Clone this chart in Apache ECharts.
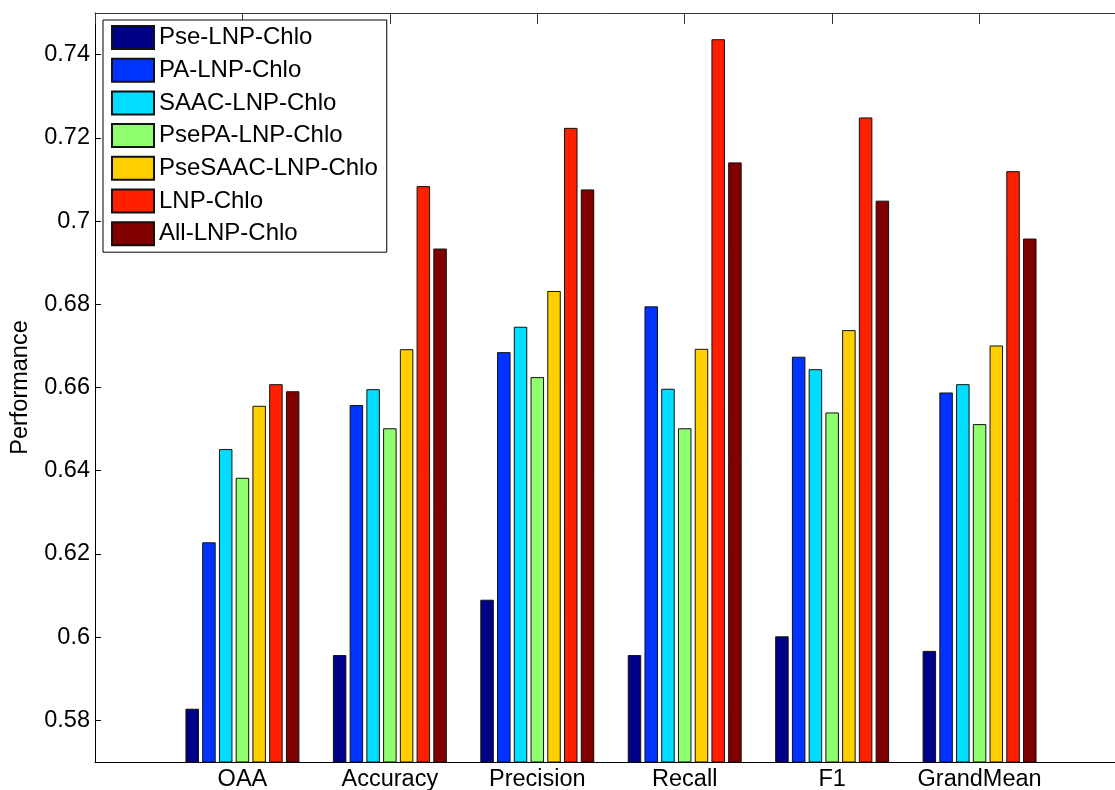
<!DOCTYPE html>
<html>
<head>
<meta charset="utf-8">
<script src="https://cdn.jsdelivr.net/npm/echarts@6/dist/echarts.min.js"></script>
<style>
    html, body { margin: 0; padding: 0; background: #fff; }
    #chart { width: 1115px; height: 790px; }
</style>
</head>
<body>
<div id="chart"></div>
<script>
// blank slots at both ends give the MATLAB-style padding around the groups
const categories = ['', 'OAA', 'Accuracy', 'Precision', 'Recall', 'F1', 'GrandMean', ''];
const seriesNames = ['Pse-LNP-Chlo', 'PA-LNP-Chlo', 'SAAC-LNP-Chlo', 'PsePA-LNP-Chlo', 'PseSAAC-LNP-Chlo', 'LNP-Chlo', 'All-LNP-Chlo'];
const colors = ['#000088', '#0033ff', '#00ddff', '#8fff6f', '#ffcf00', '#ff2000', '#800000'];

const pseLnp     = ['-', 0.5828, 0.5957, 0.6090, 0.5957, 0.6002, 0.5967, '-'];
const paLnp      = ['-', 0.6228, 0.6558, 0.6685, 0.6795, 0.6674, 0.6588, '-'];
const saacLnp    = ['-', 0.6452, 0.6596, 0.6746, 0.6597, 0.6644, 0.6608, '-'];
const psePaLnp   = ['-', 0.6383, 0.6502, 0.6625, 0.6502, 0.6540, 0.6512, '-'];
const pseSaacLnp = ['-', 0.6556, 0.6692, 0.6832, 0.6693, 0.6738, 0.6701, '-'];
const lnp        = ['-', 0.6608, 0.7084, 0.7224, 0.7437, 0.7249, 0.7120, '-'];
const allLnp     = ['-', 0.6591, 0.6934, 0.7076, 0.7141, 0.7049, 0.6958, '-'];

const yMin = 0.57;
const yMax = 0.75;

const seriesValues = [pseLnp, paLnp, saacLnp, psePaLnp, pseSaacLnp, lnp, allLnp];
const font = 'Liberation Sans, Arial, sans-serif';

const chart = echarts.init(document.getElementById('chart'));

const series = seriesValues.map((vals, i) => ({
    name: seriesNames[i],
    type: 'bar',
    data: vals,
    barWidth: 13.5,
    barGap: '24%',
    itemStyle: {
        color: colors[i],
        borderColor: '#111',
        borderWidth: 1
    }
}));

const option = {
    animation: false,
    backgroundColor: '#fff',
    grid: {
        left: 95,
        right: -12,
        top: 13,
        bottom: 28,
        outerBoundsMode: 'none'
    },
    legend: {
        orient: 'vertical',
        left: 103,
        top: 20,
        data: seriesNames,
        icon: 'rect',
        itemWidth: 42,
        itemHeight: 23,
        itemGap: 7.7,
        padding: [5, 9, 6, 8],
        backgroundColor: '#fff',
        borderColor: '#000',
        borderWidth: 1,
        textStyle: {
            fontFamily: font,
            fontSize: 24,
            color: '#000'
        }
    },
    xAxis: [
        {
            type: 'category',
            data: categories,
            boundaryGap: false,
            axisLine: { lineStyle: { color: '#000', width: 1 } },
            axisTick: { inside: true, length: 10, lineStyle: { color: '#000' } },
            axisLabel: {
                fontFamily: font,
                fontSize: 23.5,
                color: '#000',
                margin: 6,
                interval: 0
            }
        },
        {
            type: 'category',
            data: categories,
            position: 'top',
            boundaryGap: false,
            axisLine: { lineStyle: { color: '#333', width: 1 } },
            axisTick: { inside: true, length: 11, interval: 0, lineStyle: { color: '#333' } },
            axisLabel: { show: false }
        }
    ],
    yAxis: {
        type: 'value',
        min: yMin,
        max: yMax,
        splitNumber: 9,
        name: 'Performance',
        nameLocation: 'middle',
        nameRotate: 90,
        nameGap: 62,
        nameTextStyle: {
            fontFamily: font,
            fontSize: 23.5,
            color: '#000'
        },
        splitLine: { show: false },
        axisLine: { show: true, lineStyle: { color: '#000', width: 1 } },
        axisTick: { show: true, inside: true, length: 6, lineStyle: { color: '#000' } },
        axisLabel: {
            fontFamily: font,
            fontSize: 23.5,
            color: '#000',
            margin: 5,
            showMinLabel: false,
            showMaxLabel: false,
            formatter: v => String(+v.toFixed(2))
        }
    },
    series: series
};

chart.setOption(option);
</script>
</body>
</html>
